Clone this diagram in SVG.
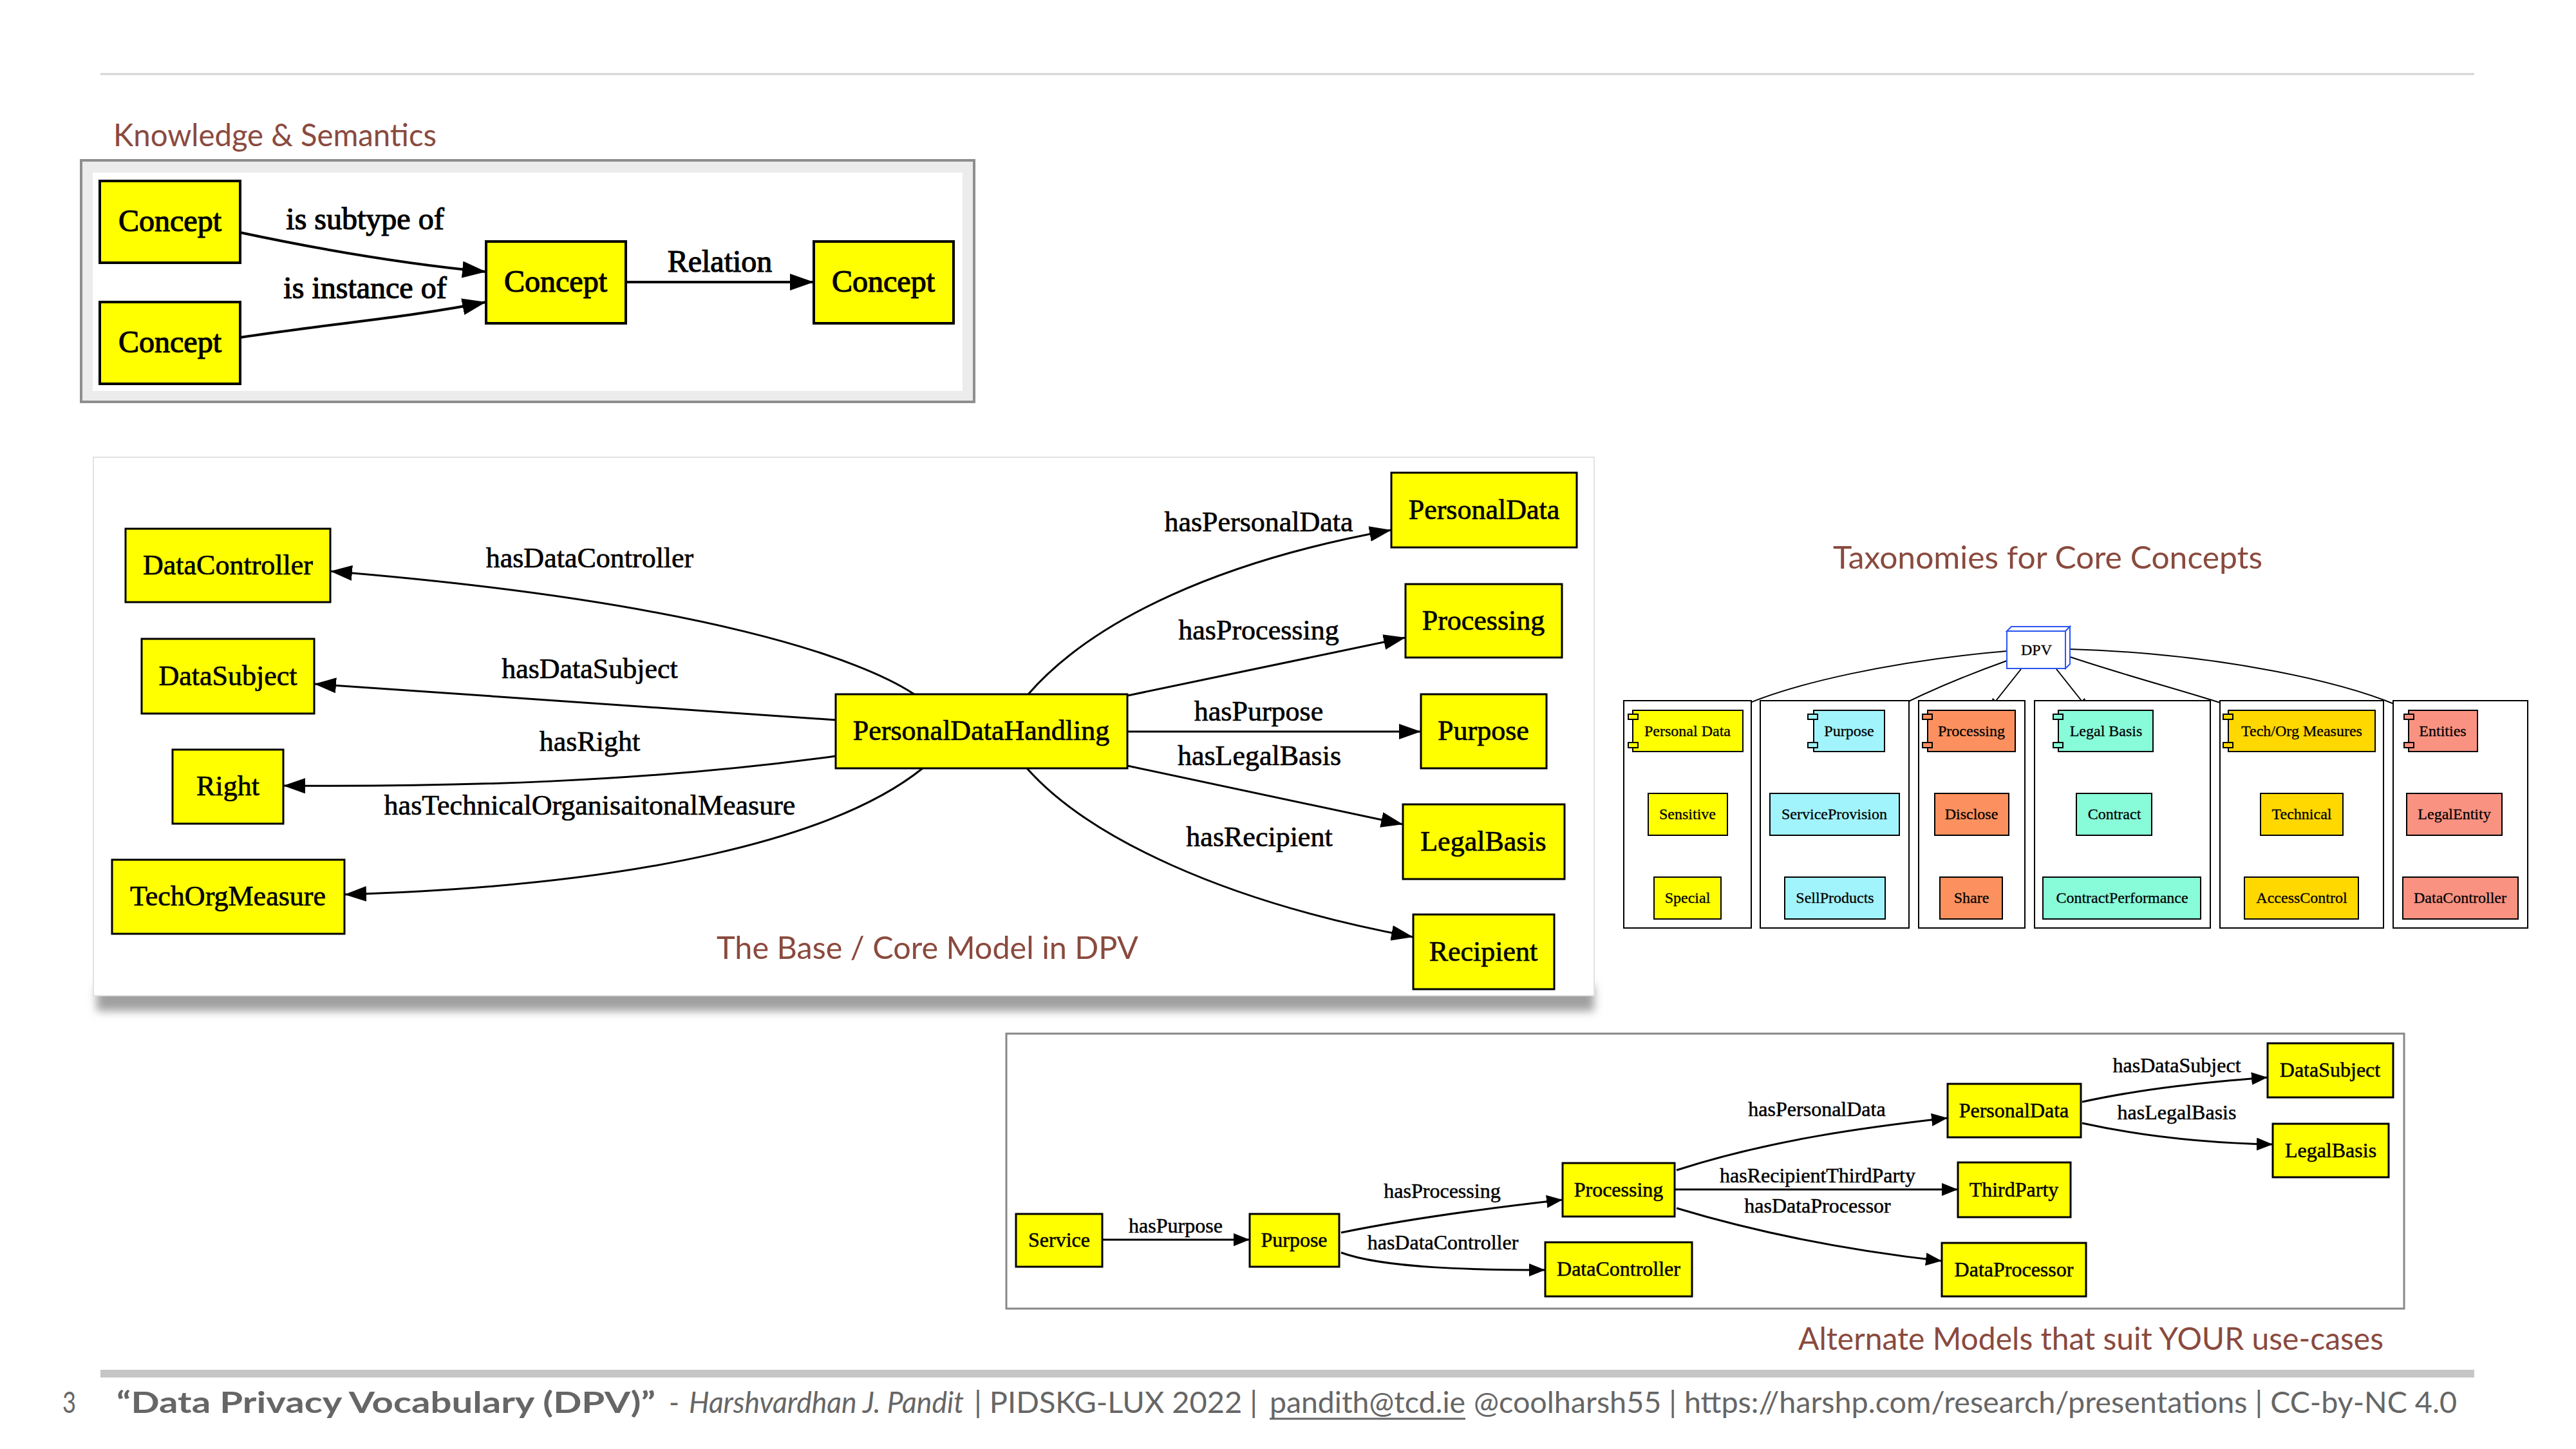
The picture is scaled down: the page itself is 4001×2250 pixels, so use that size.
<svg xmlns="http://www.w3.org/2000/svg" width="4001" height="2250" viewBox="0 0 4001 2250">
<style>
.title{font-family:Lato,"Open Sans",sans-serif;font-size:48px;fill:#8a4a3e}
.foot{font-family:Lato,"Open Sans",sans-serif;font-size:46px;fill:#666666}
.t{font-family:"Liberation Serif","Times New Roman",serif;text-anchor:middle;fill:#000;stroke:#000}
.k{font-size:48px;stroke-width:1.2}
.c{font-size:44px;stroke-width:0.7}
.a{font-size:32px;stroke-width:0.5}
.x{font-size:24px;stroke-width:0.3}
.yn{fill:#ffff00;stroke:#000}
.kn{stroke-width:4}
.cn{stroke-width:3}
.an{stroke-width:3}
.tn{stroke-width:2}
.e{fill:none;stroke:#000}
.dash{fill:none;stroke:#000;stroke-width:2;stroke-dasharray:10,7}
.cl{fill:#fff;stroke:#000;stroke-width:2}
</style>
<defs>
<marker id="ak" markerUnits="userSpaceOnUse" markerWidth="40" markerHeight="30" refX="37" refY="13" orient="auto"><path d="M0,0 L37,13 L0,26 Z" fill="#000"/></marker>
<marker id="ac" markerUnits="userSpaceOnUse" markerWidth="40" markerHeight="30" refX="34" refY="12" orient="auto"><path d="M0,0 L34,12 L0,24 Z" fill="#000"/></marker>
<marker id="aa" markerUnits="userSpaceOnUse" markerWidth="30" markerHeight="24" refX="25" refY="10" orient="auto"><path d="M0,0 L25,10 L0,20 Z" fill="#000"/></marker>
<marker id="at" markerUnits="userSpaceOnUse" markerWidth="22" markerHeight="16" refX="18" refY="6.5" orient="auto"><path d="M0,0 L18,6.5 L0,13 Z" fill="#000"/></marker>
<filter id="sh" x="-5%" y="-50%" width="110%" height="200%"><feGaussianBlur stdDeviation="7"/></filter>
</defs>
<rect x="0" y="0" width="4001" height="2250" fill="#ffffff"/>
<line x1="156" y1="115" x2="3843" y2="115" stroke="#d4d4d4" stroke-width="3"/>

<!-- Titles -->
<text class="title" x="176" y="227" textLength="502" lengthAdjust="spacingAndGlyphs">Knowledge &amp; Semantics</text>
<text class="title" x="2847" y="883" textLength="667" lengthAdjust="spacingAndGlyphs">Taxonomies for Core Concepts</text>

<!-- Knowledge frame -->
<g id="knowledge-frame">
<rect x="126" y="249" width="1387" height="375" fill="#ececec" stroke="#8e8e8e" stroke-width="4"/>
<rect x="144" y="268" width="1351" height="339" fill="#ffffff"/>
</g>

<!-- Core model frame -->
<g id="core-frame">
<rect x="150" y="1530" width="2326" height="40" fill="#a0a0a0" filter="url(#sh)"/>
<rect x="145" y="710" width="2331" height="836" fill="#ffffff" stroke="#e2e2e2" stroke-width="2"/>
</g>

<!-- Alternate frame -->
<g id="alt-frame">
<rect x="1563" y="1605" width="2171" height="427" fill="#ffffff" stroke="#888888" stroke-width="3"/>
</g>

<!-- Connectors -->
<g id="connectors">
<!-- knowledge -->
<path class="e" stroke-width="4" d="M373,361 C500,388 630,410 755,422" marker-end="url(#ak)"/>
<path class="e" stroke-width="4" d="M373,524 C520,502 640,492 755,469" marker-end="url(#ak)"/>
<path class="e" stroke-width="4" d="M972,438 L1264,438" marker-end="url(#ak)"/>
<!-- core -->
<path class="e" stroke-width="3" d="M1420,1078 C1340,1025 1100,935 513,887" marker-end="url(#ac)"/>
<path class="e" stroke-width="3" d="M1298,1118 L488,1062" marker-end="url(#ac)"/>
<path class="e" stroke-width="3" d="M1298,1174 C1000,1215 700,1222 440,1220" marker-end="url(#ac)"/>
<path class="e" stroke-width="3" d="M1433,1193 C1300,1300 1000,1375 535,1389" marker-end="url(#ac)"/>
<path class="e" stroke-width="3" d="M1597,1078 C1700,960 1900,870 2161,823" marker-end="url(#ac)"/>
<path class="e" stroke-width="3" d="M1752,1080 L2183,990" marker-end="url(#ac)"/>
<path class="e" stroke-width="3" d="M1751,1136 L2207,1136" marker-end="url(#ac)"/>
<path class="e" stroke-width="3" d="M1751,1189 L2179,1280" marker-end="url(#ac)"/>
<path class="e" stroke-width="3" d="M1595,1193 C1690,1300 1900,1400 2195,1455" marker-end="url(#ac)"/>
<!-- taxonomy -->
<path class="e" stroke-width="2" d="M3117,1011 C2950,1025 2780,1060 2691,1103" marker-end="url(#at)"/>
<path class="e" stroke-width="2" d="M3117,1026 C3050,1050 2980,1080 2927,1108" marker-end="url(#at)"/>
<path class="e" stroke-width="2" d="M3139,1039 L3089,1102" marker-end="url(#at)"/>
<path class="e" stroke-width="2" d="M3194,1039 L3244,1102" marker-end="url(#at)"/>
<path class="e" stroke-width="2" d="M3215,1020 C3320,1055 3420,1080 3484,1103" marker-end="url(#at)"/>
<path class="e" stroke-width="2" d="M3215,1008 C3450,1015 3650,1060 3741,1103" marker-end="url(#at)"/>
<line class="dash" x1="2621" y1="1167" x2="2621" y2="1232"/>
<line class="dash" x1="2621" y1="1297" x2="2621" y2="1362"/>
<line class="dash" x1="2866" y1="1167" x2="2855" y2="1232"/>
<line class="dash" x1="2850" y1="1297" x2="2850" y2="1362"/>
<line class="dash" x1="3062" y1="1167" x2="3062" y2="1232"/>
<line class="dash" x1="3062" y1="1297" x2="3062" y2="1362"/>
<line class="dash" x1="3274" y1="1167" x2="3280" y2="1232"/>
<line class="dash" x1="3287" y1="1297" x2="3292" y2="1362"/>
<line class="dash" x1="3575" y1="1167" x2="3575" y2="1232"/>
<line class="dash" x1="3575" y1="1297" x2="3575" y2="1362"/>
<line class="dash" x1="3800" y1="1167" x2="3807" y2="1232"/>
<line class="dash" x1="3816" y1="1297" x2="3819" y2="1362"/>
<!-- alternate -->
<path class="e" stroke-width="3" d="M1712,1925 L1941,1925" marker-end="url(#aa)"/>
<path class="e" stroke-width="3" d="M2083,1914 C2200,1890 2320,1875 2427,1863" marker-end="url(#aa)"/>
<path class="e" stroke-width="3" d="M2083,1945 C2150,1970 2300,1972 2400,1972" marker-end="url(#aa)"/>
<path class="e" stroke-width="3" d="M2604,1817 C2750,1770 2900,1750 3025,1736" marker-end="url(#aa)"/>
<path class="e" stroke-width="3" d="M2601,1847 L3041,1847" marker-end="url(#aa)"/>
<path class="e" stroke-width="3" d="M2604,1876 C2750,1920 2900,1945 3016,1958" marker-end="url(#aa)"/>
<path class="e" stroke-width="3" d="M3234,1711 C3330,1690 3430,1680 3522,1673" marker-end="url(#aa)"/>
<path class="e" stroke-width="3" d="M3234,1744 C3330,1765 3430,1775 3530,1777" marker-end="url(#aa)"/>
</g>

<!-- Edge labels -->
<g id="edge-labels">
<text class="t k" x="567" y="356">is subtype of</text>
<text class="t k" x="567" y="463">is instance of</text>
<text class="t k" x="1118" y="422">Relation</text>
<text class="t c" x="916" y="881">hasDataController</text>
<text class="t c" x="916" y="1053">hasDataSubject</text>
<text class="t c" x="916" y="1166">hasRight</text>
<text class="t c" x="916" y="1265">hasTechnicalOrganisaitonalMeasure</text>
<text class="t c" x="1955" y="825">hasPersonalData</text>
<text class="t c" x="1955" y="993">hasProcessing</text>
<text class="t c" x="1955" y="1119">hasPurpose</text>
<text class="t c" x="1956" y="1188">hasLegalBasis</text>
<text class="t c" x="1956" y="1314">hasRecipient</text>
<text class="t a" x="1826" y="1914">hasPurpose</text>
<text class="t a" x="2240" y="1860">hasProcessing</text>
<text class="t a" x="2241" y="1940">hasDataController</text>
<text class="t a" x="2822" y="1733">hasPersonalData</text>
<text class="t a" x="2823" y="1836">hasRecipientThirdParty</text>
<text class="t a" x="2823" y="1883">hasDataProcessor</text>
<text class="t a" x="3381" y="1665">hasDataSubject</text>
<text class="t a" x="3381" y="1738">hasLegalBasis</text>
</g>

<!-- Knowledge nodes -->
<g id="k-concept-1"><rect class="yn kn" x="155" y="281" width="218" height="127"/><text class="t k" x="264" y="359">Concept</text></g>
<g id="k-concept-2"><rect class="yn kn" x="155" y="469" width="218" height="127"/><text class="t k" x="264" y="547">Concept</text></g>
<g id="k-concept-3"><rect class="yn kn" x="755" y="375" width="217" height="127"/><text class="t k" x="863" y="453">Concept</text></g>
<g id="k-concept-4"><rect class="yn kn" x="1264" y="375" width="217" height="127"/><text class="t k" x="1372" y="453">Concept</text></g>

<!-- Core nodes -->
<g id="c-datacontroller"><rect class="yn cn" x="195" y="821" width="318" height="114"/><text class="t c" x="354" y="892">DataController</text></g>
<g id="c-datasubject"><rect class="yn cn" x="220" y="992" width="268" height="116"/><text class="t c" x="354" y="1064">DataSubject</text></g>
<g id="c-right"><rect class="yn cn" x="268" y="1164" width="172" height="115"/><text class="t c" x="354" y="1235">Right</text></g>
<g id="c-techorgmeasure"><rect class="yn cn" x="174" y="1335" width="361" height="115"/><text class="t c" x="354" y="1406">TechOrgMeasure</text></g>
<g id="c-pdh"><rect class="yn cn" x="1298" y="1078" width="453" height="115"/><text class="t c" x="1524" y="1149">PersonalDataHandling</text></g>
<g id="c-personaldata"><rect class="yn cn" x="2161" y="734" width="288" height="116"/><text class="t c" x="2305" y="806">PersonalData</text></g>
<g id="c-processing"><rect class="yn cn" x="2183" y="907" width="243" height="114"/><text class="t c" x="2304" y="978">Processing</text></g>
<g id="c-purpose"><rect class="yn cn" x="2207" y="1078" width="195" height="115"/><text class="t c" x="2304" y="1149">Purpose</text></g>
<g id="c-legalbasis"><rect class="yn cn" x="2179" y="1249" width="251" height="116"/><text class="t c" x="2304" y="1321">LegalBasis</text></g>
<g id="c-recipient"><rect class="yn cn" x="2195" y="1420" width="219" height="116"/><text class="t c" x="2304" y="1492">Recipient</text></g>
<text class="title" x="1113" y="1489" textLength="655" lengthAdjust="spacingAndGlyphs">The Base / Core Model in DPV</text>

<!-- Taxonomy -->
<g id="t-clusters">
<rect class="cl" x="2522" y="1088" width="198" height="353"/>
<rect class="cl" x="2734" y="1088" width="231" height="353"/>
<rect class="cl" x="2980" y="1088" width="165" height="353"/>
<rect class="cl" x="3160" y="1088" width="273" height="353"/>
<rect class="cl" x="3448" y="1088" width="254" height="353"/>
<rect class="cl" x="3717" y="1088" width="209" height="353"/>
</g>
<g id="t-dpv">
<polygon points="3117,980 3124,973 3215,973 3208,980" fill="#fff" stroke="#2a55f0" stroke-width="2"/>
<polygon points="3208,980 3215,973 3215,1031 3208,1038" fill="#fff" stroke="#2a55f0" stroke-width="2"/>
<rect x="3117" y="980" width="91" height="58" fill="#fff" stroke="#2a55f0" stroke-width="2"/>
<text class="t x" x="3163" y="1017">DPV</text>
</g>
<g id="t-personaldata">
<rect x="2536" y="1103" width="171" height="64" fill="#ffff00" stroke="#000" stroke-width="2"/>
<rect x="2529" y="1109" width="15" height="8" fill="#ffff00" stroke="#000" stroke-width="2"/>
<rect x="2529" y="1153" width="15" height="8" fill="#ffff00" stroke="#000" stroke-width="2"/>
<text class="t x" x="2621" y="1143">Personal Data</text>
</g>
<g id="t-sensitive"><rect class="tn" x="2560" y="1232" width="123" height="65" fill="#ffff00" stroke="#000"/><text class="t x" x="2621" y="1272">Sensitive</text></g>
<g id="t-special"><rect class="tn" x="2569" y="1362" width="104" height="65" fill="#ffff00" stroke="#000"/><text class="t x" x="2621" y="1402">Special</text></g>
<g id="t-purpose">
<rect x="2817" y="1103" width="110" height="64" fill="#a2f4fc" stroke="#000" stroke-width="2"/>
<rect x="2808" y="1109" width="15" height="8" fill="#a2f4fc" stroke="#000" stroke-width="2"/>
<rect x="2808" y="1153" width="15" height="8" fill="#a2f4fc" stroke="#000" stroke-width="2"/>
<text class="t x" x="2872" y="1143">Purpose</text>
</g>
<g id="t-serviceprovision"><rect class="tn" x="2749" y="1232" width="201" height="65" fill="#a2f4fc" stroke="#000"/><text class="t x" x="2849" y="1272">ServiceProvision</text></g>
<g id="t-sellproducts"><rect class="tn" x="2772" y="1362" width="156" height="65" fill="#a2f4fc" stroke="#000"/><text class="t x" x="2850" y="1402">SellProducts</text></g>
<g id="t-processing">
<rect x="2994" y="1103" width="136" height="64" fill="#fc915f" stroke="#000" stroke-width="2"/>
<rect x="2986" y="1109" width="15" height="8" fill="#fc915f" stroke="#000" stroke-width="2"/>
<rect x="2986" y="1153" width="15" height="8" fill="#fc915f" stroke="#000" stroke-width="2"/>
<text class="t x" x="3062" y="1143">Processing</text>
</g>
<g id="t-disclose"><rect class="tn" x="3005" y="1232" width="115" height="65" fill="#fc915f" stroke="#000"/><text class="t x" x="3062" y="1272">Disclose</text></g>
<g id="t-share"><rect class="tn" x="3013" y="1362" width="97" height="65" fill="#fc915f" stroke="#000"/><text class="t x" x="3062" y="1402">Share</text></g>
<g id="t-legalbasis">
<rect x="3197" y="1103" width="147" height="64" fill="#88fbd8" stroke="#000" stroke-width="2"/>
<rect x="3189" y="1109" width="15" height="8" fill="#88fbd8" stroke="#000" stroke-width="2"/>
<rect x="3189" y="1153" width="15" height="8" fill="#88fbd8" stroke="#000" stroke-width="2"/>
<text class="t x" x="3271" y="1143">Legal Basis</text>
</g>
<g id="t-contract"><rect class="tn" x="3225" y="1232" width="117" height="65" fill="#88fbd8" stroke="#000"/><text class="t x" x="3284" y="1272">Contract</text></g>
<g id="t-contractperformance"><rect class="tn" x="3173" y="1362" width="245" height="65" fill="#88fbd8" stroke="#000"/><text class="t x" x="3296" y="1402">ContractPerformance</text></g>
<g id="t-techorg">
<rect x="3461" y="1103" width="228" height="64" fill="#ffd800" stroke="#000" stroke-width="2"/>
<rect x="3453" y="1109" width="15" height="8" fill="#ffd800" stroke="#000" stroke-width="2"/>
<rect x="3453" y="1153" width="15" height="8" fill="#ffd800" stroke="#000" stroke-width="2"/>
<text class="t x" x="3575" y="1143">Tech/Org Measures</text>
</g>
<g id="t-technical"><rect class="tn" x="3511" y="1232" width="128" height="65" fill="#ffd800" stroke="#000"/><text class="t x" x="3575" y="1272">Technical</text></g>
<g id="t-accesscontrol"><rect class="tn" x="3486" y="1362" width="177" height="65" fill="#ffd800" stroke="#000"/><text class="t x" x="3575" y="1402">AccessControl</text></g>
<g id="t-entities">
<rect x="3741" y="1103" width="107" height="64" fill="#fa9282" stroke="#000" stroke-width="2"/>
<rect x="3734" y="1109" width="15" height="8" fill="#fa9282" stroke="#000" stroke-width="2"/>
<rect x="3734" y="1153" width="15" height="8" fill="#fa9282" stroke="#000" stroke-width="2"/>
<text class="t x" x="3794" y="1143">Entities</text>
</g>
<g id="t-legalentity"><rect class="tn" x="3738" y="1232" width="148" height="65" fill="#fa9282" stroke="#000"/><text class="t x" x="3812" y="1272">LegalEntity</text></g>
<g id="t-datacontroller"><rect class="tn" x="3732" y="1362" width="179" height="65" fill="#fa9282" stroke="#000"/><text class="t x" x="3821" y="1402">DataController</text></g>

<!-- Alternate nodes -->
<g id="a-service"><rect class="yn an" x="1578" y="1885" width="134" height="82"/><text class="t a" x="1645" y="1936">Service</text></g>
<g id="a-purpose"><rect class="yn an" x="1941" y="1885" width="139" height="82"/><text class="t a" x="2010" y="1936">Purpose</text></g>
<g id="a-processing"><rect class="yn an" x="2427" y="1806" width="174" height="83"/><text class="t a" x="2514" y="1858">Processing</text></g>
<g id="a-datacontroller"><rect class="yn an" x="2400" y="1929" width="228" height="84"/><text class="t a" x="2514" y="1981">DataController</text></g>
<g id="a-personaldata"><rect class="yn an" x="3025" y="1683" width="207" height="83"/><text class="t a" x="3128" y="1735">PersonalData</text></g>
<g id="a-thirdparty"><rect class="yn an" x="3041" y="1805" width="175" height="85"/><text class="t a" x="3128" y="1858">ThirdParty</text></g>
<g id="a-dataprocessor"><rect class="yn an" x="3016" y="1930" width="224" height="83"/><text class="t a" x="3128" y="1982">DataProcessor</text></g>
<g id="a-datasubject"><rect class="yn an" x="3522" y="1620" width="195" height="84"/><text class="t a" x="3619" y="1672">DataSubject</text></g>
<g id="a-legalbasis"><rect class="yn an" x="3530" y="1745" width="180" height="83"/><text class="t a" x="3620" y="1797">LegalBasis</text></g>
<text class="title" x="2793" y="2096" textLength="909" lengthAdjust="spacingAndGlyphs">Alternate Models that suit YOUR use-cases</text>

<!-- Footer -->
<g id="footer">
<rect x="156" y="2127" width="3687" height="12" fill="#c6c6c6"/>
<text class="foot" x="97" y="2194" textLength="21" lengthAdjust="spacingAndGlyphs">3</text>
<text class="foot" x="181" y="2194" font-weight="bold" textLength="837" lengthAdjust="spacingAndGlyphs">“Data Privacy Vocabulary (DPV)”</text>
<text class="foot" x="1039" y="2194" textLength="16" lengthAdjust="spacingAndGlyphs">-</text>
<text class="foot" x="1070" y="2194" font-style="italic" textLength="427" lengthAdjust="spacingAndGlyphs">Harshvardhan J. Pandit</text>
<text class="foot" x="1513" y="2194" textLength="440" lengthAdjust="spacingAndGlyphs">| PIDSKG-LUX 2022 |</text>
<text class="foot" x="1972" y="2194" textLength="304" lengthAdjust="spacingAndGlyphs">pandith@tcd.ie</text>
<line x1="1972" y1="2203" x2="2276" y2="2203" stroke="#666666" stroke-width="3"/>
<text class="foot" x="2289" y="2194" textLength="1527" lengthAdjust="spacingAndGlyphs">@coolharsh55 | https://harshp.com/research/presentations | CC-by-NC 4.0</text>
</g>
</svg>
